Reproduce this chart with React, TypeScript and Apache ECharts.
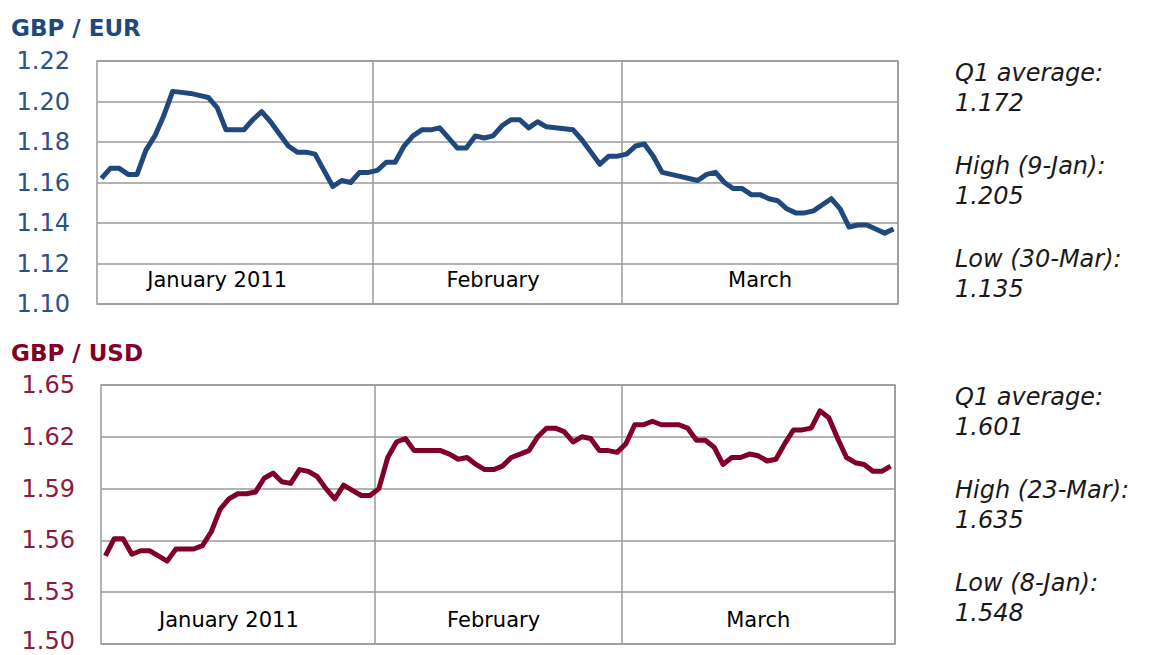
import React, { useEffect, useRef } from 'react';
import * as echarts from 'echarts';

// ---- data ----
const monthNames = ['January 2011', 'February', 'March'];
const monthDays = [31, 28, 31];
const days: string[] = [];
monthDays.forEach((n, m) => {
  for (let d = 1; d <= n; d++) {
    days.push(`2011-${String(m + 1).padStart(2, '0')}-${String(d).padStart(2, '0')}`);
  }
});

const eurValues = [
  1.162, 1.167, 1.167, 1.164, 1.164, 1.176, 1.183, 1.193, 1.205, 1.2045,
  1.204, 1.203, 1.202, 1.197, 1.186, 1.186, 1.186, 1.191, 1.195, 1.190,
  1.184, 1.178, 1.175, 1.175, 1.174, 1.166, 1.158, 1.161, 1.160, 1.165,
  1.165, 1.166, 1.170, 1.170, 1.178, 1.183, 1.186, 1.186, 1.187, 1.182,
  1.177, 1.177, 1.183, 1.182, 1.183, 1.188, 1.191, 1.191, 1.187, 1.190,
  1.1875, 1.187, 1.1865, 1.186, 1.181, 1.175, 1.169, 1.173, 1.173, 1.174,
  1.178, 1.179, 1.173, 1.165, 1.164, 1.163, 1.162, 1.161, 1.164, 1.165,
  1.160, 1.157, 1.157, 1.154, 1.154, 1.152, 1.151, 1.147, 1.145, 1.145,
  1.146, 1.149, 1.152, 1.147, 1.138, 1.139, 1.139, 1.137, 1.135, 1.137,
];

const usdValues = [
  1.551, 1.561, 1.561, 1.552, 1.554, 1.554, 1.551, 1.548, 1.555, 1.555,
  1.555, 1.557, 1.565, 1.578, 1.584, 1.587, 1.587, 1.588, 1.596, 1.599,
  1.594, 1.593, 1.601, 1.600, 1.597, 1.590, 1.584, 1.592, 1.589, 1.586,
  1.586, 1.590, 1.608, 1.617, 1.619, 1.612, 1.612, 1.612, 1.612, 1.610,
  1.607, 1.608, 1.604, 1.601, 1.601, 1.603, 1.608, 1.610, 1.612, 1.620,
  1.625, 1.625, 1.623, 1.617, 1.620, 1.619, 1.612, 1.612, 1.611, 1.616,
  1.627, 1.627, 1.629, 1.627, 1.627, 1.627, 1.625, 1.618, 1.618, 1.614,
  1.604, 1.608, 1.608, 1.610, 1.609, 1.606, 1.607, 1.616, 1.624, 1.624,
  1.625, 1.635, 1.631, 1.619, 1.608, 1.605, 1.604, 1.600, 1.600, 1.603,
];

const eurAxis = { min: 1.10, max: 1.22, interval: 0.02 };
const usdAxis = { min: 1.50, max: 1.65, interval: 0.03 };

const eurTitle = 'GBP / EUR';
const usdTitle = 'GBP / USD';
const eurStats = ['Q1 average:', '1.172', 'High (9-Jan):', '1.205', 'Low (30-Mar):', '1.135'];
const usdStats = ['Q1 average:', '1.601', 'High (23-Mar):', '1.635', 'Low (8-Jan):', '1.548'];

// ---- layout / style ----
const FONT = '"DejaVu Sans", sans-serif';
const BLUE = '#1f497d';
const BLUE_LABEL = '#2c5285';
const RED = '#800028';
const RED_LABEL = '#8c1a3c';
const GRID_COLOR = '#9a9a9a';

// days at which the month names are written (one per month)
const eurLabelDays = ['2011-01-14', '2011-02-14', '2011-03-16'];
const usdLabelDays = ['2011-01-15', '2011-02-14', '2011-03-16'];

const monthOf = (d: string) => monthNames[parseInt(d.slice(5, 7), 10) - 1];
const monthStarts = monthDays.map((_, m) => days.indexOf(`2011-${String(m + 1).padStart(2, '0')}-01`)).slice(1);

function xAxisFor(gridIndex: number, labelDays: string[]) {
  return {
    gridIndex,
    type: 'category',
    data: days,
    boundaryGap: true,
    axisLine: { show: false },
    axisTick: { show: false },
    splitLine: {
      show: true,
      interval: (i: number) => monthStarts.includes(i),
      lineStyle: { color: GRID_COLOR, width: 1.5 },
    },
    axisLabel: {
      inside: true,
      interval: (i: number, v: string) => labelDays.includes(v),
      formatter: (v: string) => monthOf(v),
      margin: 24,
      verticalAlign: 'middle',
      fontSize: 21,
      color: '#000',
      fontFamily: FONT,
    },
  };
}

function yAxisFor(
  gridIndex: number,
  ax: { min: number; max: number; interval: number },
  color: string,
  margin: number,
  liftMin: boolean,
) {
  return {
    gridIndex,
    type: 'value',
    min: ax.min,
    max: ax.max,
    interval: ax.interval,
    axisLine: { show: false },
    axisTick: { show: false },
    splitLine: { show: true, lineStyle: { color: GRID_COLOR, width: 1.5 } },
    axisLabel: {
      formatter: (v: number) =>
        liftMin && Math.abs(v - ax.min) < 1e-9 ? `{low|${v.toFixed(2)}}` : v.toFixed(2),
      color,
      fontSize: 24,
      lineHeight: 19,
      margin,
      fontFamily: FONT,
      rich: {
        low: { color, fontSize: 24, fontFamily: FONT, lineHeight: 19, padding: [0, 0, 6, 0] },
      },
    },
  };
}

function statsGraphics(lines: string[], x: number, y0: number) {
  return lines.map((t, i) => ({
    type: 'text',
    x,
    y: y0 + Math.floor(i / 2) * 93 + (i % 2) * 30,
    style: {
      text: t,
      fill: '#1a1a1a',
      font: `italic 24px ${FONT}`,
      verticalAlign: 'middle',
      align: 'left',
    },
  }));
}

export default function App() {
  const ref = useRef<HTMLDivElement>(null);
  useEffect(() => {
    if (!ref.current) return;
    const chart = echarts.init(ref.current, undefined, { renderer: 'svg' });
    chart.setOption({
      animation: false,
      backgroundColor: '#fff',
      grid: [
        { left: 97, top: 61, width: 801, height: 243, show: true, borderColor: GRID_COLOR, borderWidth: 1.5, backgroundColor: 'transparent', outerBoundsMode: 'none', containLabel: false },
        { left: 101, top: 385, width: 794, height: 259, show: true, borderColor: GRID_COLOR, borderWidth: 1.5, backgroundColor: 'transparent', outerBoundsMode: 'none', containLabel: false },
      ],
      xAxis: [xAxisFor(0, eurLabelDays), xAxisFor(1, usdLabelDays)],
      yAxis: [yAxisFor(0, eurAxis, BLUE_LABEL, 27, false), yAxisFor(1, usdAxis, RED_LABEL, 26, true)],
      series: [
        {
          type: 'line', xAxisIndex: 0, yAxisIndex: 0, data: eurValues, symbol: 'none',
          lineStyle: { color: BLUE, width: 5, join: 'round' }, z: 5,
        },
        {
          type: 'line', xAxisIndex: 1, yAxisIndex: 1, data: usdValues, symbol: 'none',
          lineStyle: { color: RED, width: 5, join: 'round' }, z: 5,
        },
      ],
      graphic: [
        { type: 'text', x: 11, y: 28, style: { text: eurTitle, fill: BLUE, font: `bold 23px ${FONT}`, verticalAlign: 'middle' } },
        { type: 'text', x: 11, y: 353, style: { text: usdTitle, fill: RED, font: `bold 23px ${FONT}`, verticalAlign: 'middle' } },
        ...statsGraphics(eurStats, 955, 73),
        ...statsGraphics(usdStats, 955, 397),
      ],
    });
    return () => chart.dispose();
  }, []);
  return <div ref={ref} style={{ position: 'absolute', left: 0, top: 0, width: 1155, height: 655 }} />;
}
